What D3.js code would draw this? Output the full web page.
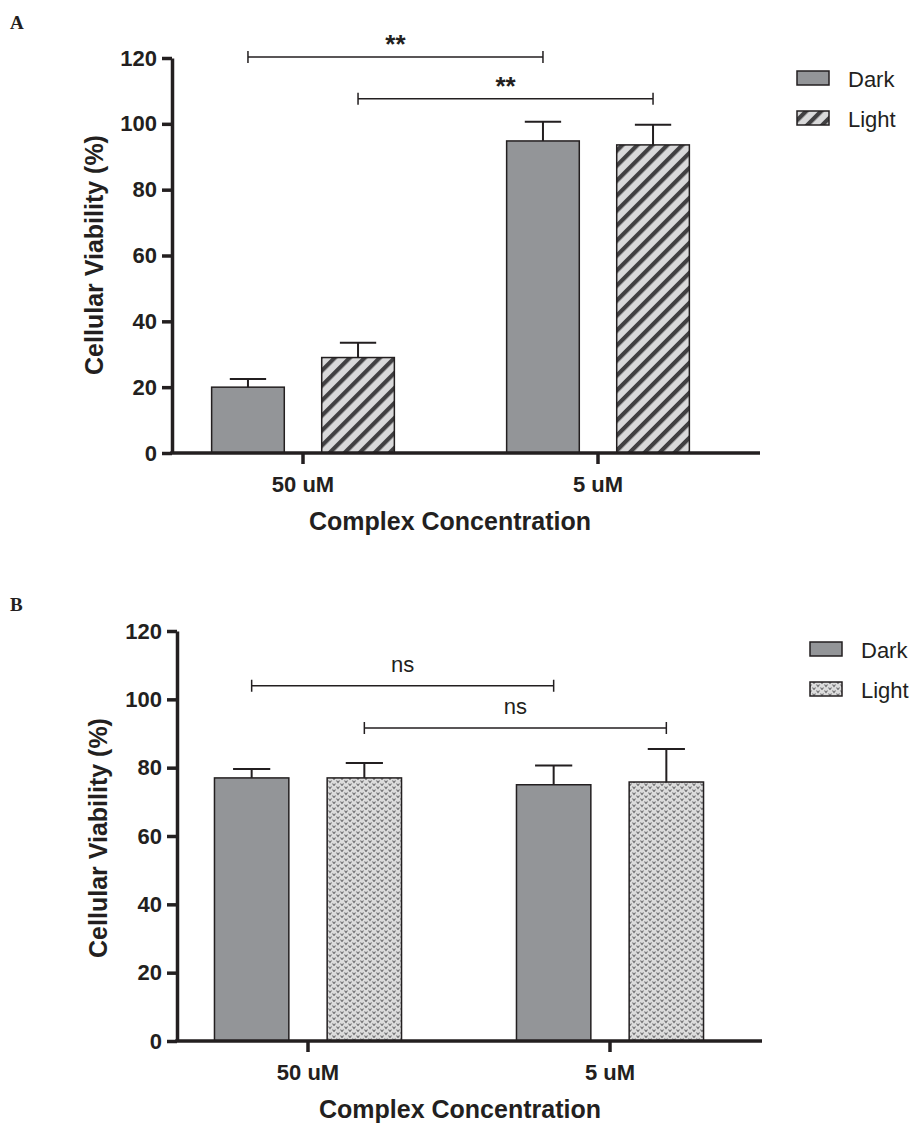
<!DOCTYPE html>
<html>
<head>
<meta charset="utf-8">
<script src="https://cdn.jsdelivr.net/npm/d3@7"></script>
<style>
  body { margin: 0; background: #fff; }
  svg { display: block; font-family: "Liberation Sans", Arial, sans-serif; }
</style>
</head>
<body>
<svg width="919" height="1123"></svg>
<script>
// data
var groups = ["50 uM", "5 uM"];
var series = ["Dark", "Light"];
var yTicks = [0, 20, 40, 60, 80, 100, 120];

var meanA_dark = [20, 94.8];
var meanA_light = [29, 93.6];
var errA_dark = [2.5, 5.8];
var errA_light = [4.5, 6.1];
var sigLabelA = ["**", "**"];
var sigLevelA = [120.3, 107.6];

var meanB_dark = [77, 75];
var meanB_light = [77, 75.8];
var errB_dark = [2.6, 5.6];
var errB_light = [4.4, 9.7];
var sigLabelB = ["ns", "ns"];
var sigLevelB = [104, 91.6];

var ink = "#231f20";
var svg = d3.select("svg");
var defs = svg.append("defs");

// diagonal hatch for panel A "Light"
var hatch = defs.append("pattern")
    .attr("id", "hatch")
    .attr("patternUnits", "userSpaceOnUse")
    .attr("width", 10.6).attr("height", 10.6)
    .attr("patternTransform", "rotate(45)");
hatch.append("rect").attr("width", 10.6).attr("height", 10.6).attr("fill", "#d9d9da");
hatch.append("rect").attr("width", 4.2).attr("height", 10.6).attr("fill", "#414042");

// small v-dot pattern for panel B "Light"
var dots = defs.append("pattern")
    .attr("id", "dots")
    .attr("patternUnits", "userSpaceOnUse")
    .attr("width", 8).attr("height", 6);
dots.append("rect").attr("width", 8).attr("height", 6).attr("fill", "#dcdcdc");
dots.append("path").attr("d", "M0.5,0.5 L2,2.5 L3.5,0.5 M4.5,3.5 L6,5.5 L7.5,3.5")
    .attr("fill", "none").attr("stroke", "#6d6d6f").attr("stroke-width", 1.1);

var render = function(p) {
  var g = svg.append("g");

  var y = d3.scaleLinear().domain([0, 120]).range([p.y0, p.y120]);
  var x0 = d3.scaleBand().domain(groups).range([p.bandStart, p.bandStart + 2 * p.step]);
  var x1 = d3.scaleBand().domain(series).range([0, x0.bandwidth()])
      .paddingInner(0.34).paddingOuter(0.51);

  var rows = [];
  groups.forEach(function(gr, i) {
    rows.push({group: gr, s: "Dark", v: p.dark[i], e: p.darkErr[i]});
    rows.push({group: gr, s: "Light", v: p.light[i], e: p.lightErr[i]});
  });
  var fills = {"Dark": "#939598", "Light": "url(#" + p.pattern + ")"};
  var cx = function(d) { return x0(d.group) + x1(d.s) + x1.bandwidth() / 2; };

  // error bars (upper only)
  var capW = x1.bandwidth() / 2;
  g.selectAll(".err").data(rows).enter().append("path")
      .attr("fill", "none").attr("stroke", ink).attr("stroke-width", 2)
      .attr("d", function(d) {
        var c = cx(d);
        return "M" + c + "," + y(d.v) + "V" + y(d.v + d.e) +
               "M" + (c - capW / 2) + "," + y(d.v + d.e) + "H" + (c + capW / 2);
      });

  g.selectAll(".bar").data(rows).enter().append("rect")
      .attr("x", function(d) { return x0(d.group) + x1(d.s); })
      .attr("y", function(d) { return y(d.v); })
      .attr("width", x1.bandwidth())
      .attr("height", function(d) { return y(0) - y(d.v); })
      .attr("fill", function(d) { return fills[d.s]; })
      .attr("stroke", ink).attr("stroke-width", 1.5);

  // y axis
  var yAxis = d3.axisLeft(y).tickValues(yTicks).tickSize(10).tickPadding(5).tickSizeOuter(0);
  var ya = g.append("g").attr("transform", "translate(" + p.left + ",0)").call(yAxis);
  ya.select(".domain").attr("stroke", ink).attr("stroke-width", 3.5);
  ya.selectAll(".tick line").attr("stroke", ink).attr("stroke-width", 3.5);
  ya.selectAll(".tick text").attr("fill", ink)
      .style("font-size", "22px").style("font-weight", "bold");

  // x axis
  var xAxis = d3.axisBottom(x0).tickSize(11).tickPadding(12).tickSizeOuter(0);
  var xa = g.append("g").attr("transform", "translate(0," + y(0) + ")").call(xAxis);
  xa.select(".domain").remove();
  xa.append("line").attr("x1", p.left - 1.75).attr("x2", p.right)
      .attr("stroke", ink).attr("stroke-width", 3.5);
  xa.selectAll(".tick line").attr("stroke", ink).attr("stroke-width", 3.5);
  xa.selectAll(".tick text").attr("fill", ink)
      .style("font-size", "22px").style("font-weight", "bold");

  // axis titles
  g.append("text")
      .attr("x", p.xTitleX).attr("y", p.xTitleY)
      .attr("text-anchor", "middle").attr("fill", ink)
      .style("font-size", "25px").style("font-weight", "bold")
      .text("Complex Concentration");
  g.append("text")
      .attr("transform", "translate(" + p.yTitleX + "," + p.yTitleY + ") rotate(-90)")
      .attr("text-anchor", "middle").attr("fill", ink)
      .style("font-size", "25px").style("font-weight", "bold")
      .text("Cellular Viability (%)");

  // significance brackets: same series across the two concentrations
  series.forEach(function(s, i) {
    var a = x0(groups[0]) + x1(s) + x1.bandwidth() / 2;
    var b = x0(groups[1]) + x1(s) + x1.bandwidth() / 2;
    var ly = y(p.sigLevel[i]);
    g.append("path")
        .attr("fill", "none").attr("stroke", ink).attr("stroke-width", 1.5)
        .attr("d", "M" + a + "," + (ly - 6) + "V" + (ly + 6) + "M" + a + "," + ly + "H" + b +
                   "M" + b + "," + (ly - 6) + "V" + (ly + 6));
    g.append("text")
        .attr("x", (a + b) / 2).attr("y", ly - p.sigGap)
        .attr("text-anchor", "middle").attr("fill", ink)
        .style("font-size", p.sigSize).style("font-weight", p.sigWeight)
        .text(p.sigLabel[i]);
  });

  // legend
  series.forEach(function(s, i) {
    g.append("rect")
        .attr("x", p.legX).attr("y", p.legY + i * 40)
        .attr("width", 32).attr("height", 14)
        .attr("fill", fills[s]).attr("stroke", ink).attr("stroke-width", 1.5);
    g.append("text")
        .attr("x", p.legX + 51).attr("y", p.legY + i * 40 + 15.5)
        .attr("fill", ink).style("font-size", "22px")
        .text(s);
  });

  // panel letter
  g.append("text")
      .attr("x", 10).attr("y", p.letterY)
      .attr("fill", ink)
      .style("font-family", "'Liberation Serif', 'Times New Roman', serif")
      .style("font-size", "19px").style("font-weight", "bold")
      .text(p.letter);
};

render({
  letter: "A", letterY: 29,
  left: 172, right: 760, y0: 453, y120: 58,
  bandStart: 155.5, step: 295, pattern: "hatch",
  dark: meanA_dark, light: meanA_light, darkErr: errA_dark, lightErr: errA_light,
  sigLabel: sigLabelA, sigLevel: sigLevelA, sigGap: 4, sigSize: "26px", sigWeight: "bold",
  legX: 797, legY: 71,
  xTitleX: 450, xTitleY: 530, yTitleX: 103, yTitleY: 255
});

render({
  letter: "B", letterY: 611,
  left: 177, right: 762, y0: 1041, y120: 631,
  bandStart: 157, step: 302, pattern: "dots",
  dark: meanB_dark, light: meanB_light, darkErr: errB_dark, lightErr: errB_light,
  sigLabel: sigLabelB, sigLevel: sigLevelB, sigGap: 14, sigSize: "22px", sigWeight: "normal",
  legX: 810, legY: 642,
  xTitleX: 460, xTitleY: 1118, yTitleX: 107, yTitleY: 838
});
</script>
</body>
</html>
